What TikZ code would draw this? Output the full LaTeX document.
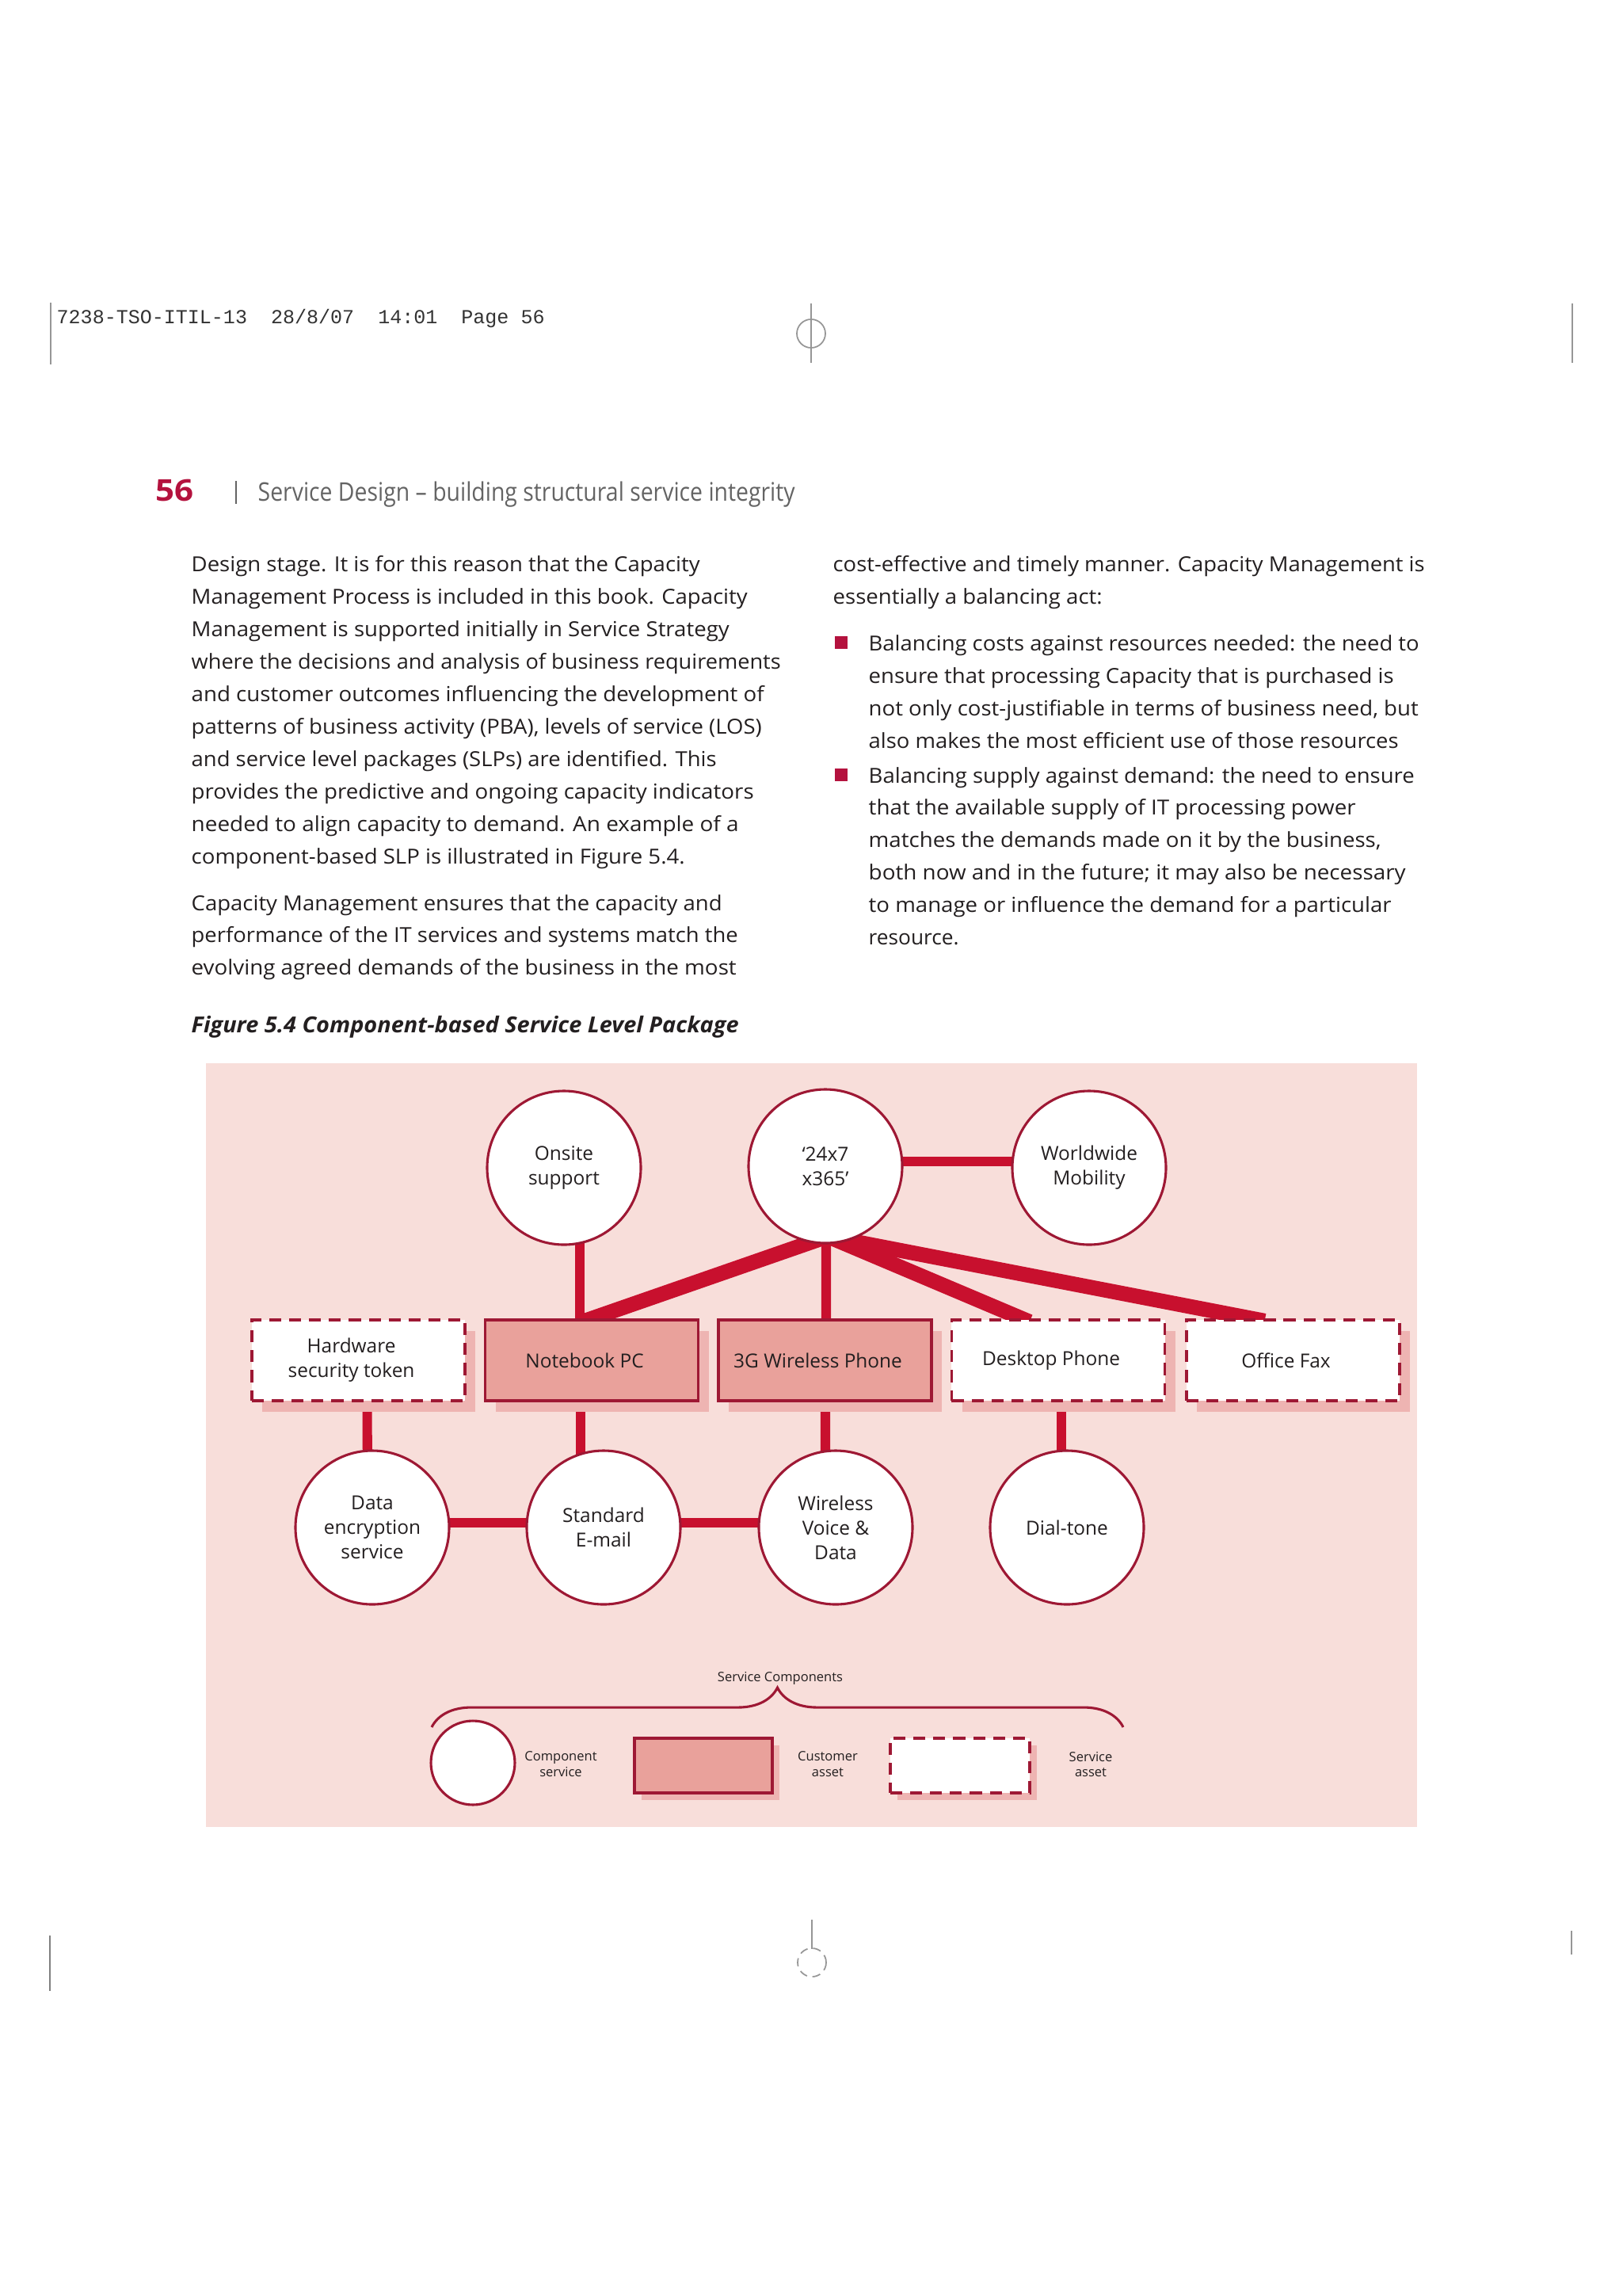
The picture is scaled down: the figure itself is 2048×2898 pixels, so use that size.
\documentclass[tikz,border=0pt]{standalone}
\usepackage{fontspec}
\setmainfont{Open Sans}
\newfontfamily\monof{Liberation Mono}
\usepackage{graphicx}
\usetikzlibrary{calc,shadows,decorations.pathreplacing}
\definecolor{figbg}{RGB}{248,222,218}
\definecolor{conncol}{RGB}{200,16,46}
\definecolor{edgecol}{RGB}{158,24,52}
\definecolor{custfill}{RGB}{233,161,155}
\definecolor{shadowc}{RGB}{238,180,178}
\definecolor{bodytxt}{RGB}{35,31,32}
\definecolor{headred}{RGB}{180,18,62}
\definecolor{titlegray}{RGB}{100,100,100}
\definecolor{markgray}{RGB}{150,150,150}
\newlength\pxu \setlength\pxu{0.29066pt}
\newcommand\fitto[2]{\resizebox{#1\pxu}{\height}{#2}}
\newcommand\lsh{\hspace*{5.2pt}}
\newcommand\bodyf{\fontsize{7.6pt}{9pt}\selectfont\color{bodytxt}}
\newcommand\diagf{\fontsize{7.1pt}{9pt}\selectfont\color{bodytxt}}
\newcommand\legf{\fontsize{4.8pt}{5.8pt}\selectfont\color{bodytxt}}
\pgfdeclarelayer{bg}
\pgfsetlayers{bg,main}
\tikzset{
  body/.style={anchor=base west, inner sep=0pt, font=\bodyf},
  comp/.style={circle, draw=edgecol, line width=0.9pt, fill=white, minimum size=56.4pt,
    inner sep=0pt, align=center, font=\diagf},
  custbox/.style={rectangle, draw=edgecol, line width=1.1pt, fill=custfill,
    minimum width=78.2pt, minimum height=29.6pt, inner sep=0pt, align=center, font=\diagf},
  servbox/.style={custbox, fill=white, dash pattern=on 4.4pt off 2.9pt},
  bigshadow/.style={drop shadow={shadow xshift=3.8pt, shadow yshift=-4.1pt, fill=shadowc, opacity=1}},
  smallshadow/.style={drop shadow={shadow xshift=2.6pt, shadow yshift=-2.6pt, fill=shadowc, opacity=1}},
  conn/.style={draw=conncol, line width=3.5pt},
  connthick/.style={draw=conncol, line width=5.5pt},
  legtext/.style={font=\legf, align=center, inner sep=0pt},
  cropline/.style={draw=markgray, line width=0.5pt}
}
\begin{document}
\begin{tikzpicture}[x=0.29066pt, y=-0.29066pt]
\useasboundingbox (0,0) rectangle (2048,2898);
\begin{pgfonlayer}{bg}
  \fill[white] (0,0) rectangle (2048,2898);
  \fill[figbg] (260,1342) rectangle (1789,2306);
\end{pgfonlayer}

% ---- printer marks ----
\draw[cropline] (64,382) -- (64,460);
\draw[cropline] (1985,383) -- (1985,458);
\draw[cropline] (1024,383) -- (1024,458);
\draw[cropline] (1024,421) circle [radius=18];
\draw[cropline, draw=gray] (63,2443) -- (63,2513);
\draw[cropline] (1984,2437) -- (1984,2467);
\draw[cropline] (1025,2423) -- (1025,2460);
\draw[cropline, densely dashed] (1025,2477) circle [radius=18];

% ---- header ----
\node[anchor=base west, inner sep=0pt, text=black!80] (hdr) at (71,408)
  {\fitto{616}{\monof\fontsize{7.3pt}{8pt}\selectfont 7238-TSO-ITIL-13~~28/8/07~~14:01~~Page 56}};
\node[anchor=base west, inner sep=0pt, text=headred] (pnum) at (196,632)
  {\fitto{48}{\fontsize{11pt}{12pt}\selectfont\bfseries 56}};
\draw[draw=titlegray, line width=0.6pt] (298,607) -- (298,636);
\node[anchor=base west, inner sep=0pt, text=titlegray] (ttl) at (325,632)
  {\fitto{678}{\fontsize{9.4pt}{10pt}\selectfont Service Design – building structural service integrity}};

% ---- left column ----
\node[body] (l1) at (241,721) {\fitto{642}{Design stage. It is for this reason that the Capacity}};
\node[body] (l2) at (241,762) {\fitto{702}{Management Process is included in this book. Capacity}};
\node[body] (l3) at (241,803) {\fitto{679}{Management is supported initially in Service Strategy}};
\node[body] (l4) at (241,844) {\fitto{744}{where the decisions and analysis of business requirements}};
\node[body] (l5) at (241,885) {\fitto{723}{and customer outcomes influencing the development of}};
\node[body] (l6) at (241,926) {\fitto{720}{patterns of business activity (PBA), levels of service (LOS)}};
\node[body] (l7) at (241,967) {\fitto{663}{and service level packages (SLPs) are identified. This}};
\node[body] (l8) at (241,1008) {\fitto{710}{provides the predictive and ongoing capacity indicators}};
\node[body] (l9) at (241,1049) {\fitto{691}{needed to align capacity to demand. An example of a}};
\node[body] (l10) at (241,1090) {\fitto{623}{component-based SLP is illustrated in Figure 5.4.}};
\node[body] (l11) at (241,1149) {\fitto{670}{Capacity Management ensures that the capacity and}};
\node[body] (l12) at (241,1189) {\fitto{690}{performance of the IT services and systems match the}};
\node[body] (l13) at (241,1230) {\fitto{688}{evolving agreed demands of the business in the most}};

% ---- right column ----
\node[body] (r1) at (1051,721) {\fitto{747}{cost-effective and timely manner. Capacity Management is}};
\node[body] (r2) at (1051,762) {\fitto{340}{essentially a balancing act:}};
\fill[headred] (1054,803) rectangle (1070,819);
\node[body] (b1) at (1096,821) {\fitto{695}{Balancing costs against resources needed: the need to}};
\node[body] (b2) at (1096,862) {\fitto{663}{ensure that processing Capacity that is purchased is}};
\node[body] (b3) at (1096,903) {\fitto{694}{not only cost-justifiable in terms of business need, but}};
\node[body] (b4) at (1096,944) {\fitto{669}{also makes the most efficient use of those resources}};
\fill[headred] (1054,970) rectangle (1070,986);
\node[body] (b5) at (1096,988) {\fitto{689}{Balancing supply against demand: the need to ensure}};
\node[body] (b6) at (1096,1028) {\fitto{615}{that the available supply of IT processing power}};
\node[body] (b7) at (1096,1069) {\fitto{647}{matches the demands made on it by the business,}};
\node[body] (b8) at (1096,1110) {\fitto{678}{both now and in the future; it may also be necessary}};
\node[body] (b9) at (1096,1151) {\fitto{660}{to manage or influence the demand for a particular}};
\node[body] (b10) at (1096,1192) {\fitto{114}{resource.}};

% ---- caption ----
\node[anchor=base west, inner sep=0pt, text=bodytxt] (cap) at (241,1303)
  {\fitto{691}{\fontsize{8.1pt}{9pt}\selectfont\bfseries\itshape Figure 5.4 Component-based Service Level Package}};

% ---- diagram nodes ----
\node[comp] (onsite) at (712,1474) {Onsite\\support};
\node[comp] (tw) at (1042,1472) {‘24x7\\x365’};
\node[comp] (ww) at (1375,1474) {Worldwide\\Mobility};
\node[servbox, bigshadow] (hw) at (452.5,1717) {Hardware\lsh\\security token\lsh};
\node[custbox, bigshadow] (nb) at (747,1717) {Notebook PC\lsh};
\node[custbox, bigshadow] (wp) at (1041.5,1717) {3G Wireless Phone\lsh};
\node[servbox, bigshadow] (dp) at (1336,1717) {Desktop Phone\lsh};
\node[servbox, bigshadow] (of) at (1632.5,1717) {Office Fax\lsh};
\node[comp] (de) at (470,1928) {Data\\encryption\\service};
\node[comp] (se) at (762,1928) {Standard\\E-mail};
\node[comp] (wv) at (1055,1928) {Wireless\\Voice \&\\Data};
\node[comp] (dt) at (1347,1928) {Dial-tone};

% ---- legend ----
\node[legtext] (sc) at (985,2118) {Service Components};
\coordinate (brl) at (545,2180);
\coordinate (brr) at (1418,2180);
\draw[draw=edgecol, line width=0.9pt, decorate, decoration={brace, amplitude=14.5pt}] (brl) -- (brr);
\node[comp, minimum size=30.8pt] (lgc) at (597,2225) {};
\node[legtext] (lgct) at (708,2227) {Component\\service};
\node[custbox, smallshadow, minimum width=50.6pt, minimum height=20pt] (lgb) at (888,2228.5) {};
\node[legtext] (lgbt) at (1045,2227) {Customer\\asset};
\node[servbox, smallshadow, minimum width=51.2pt, minimum height=20pt] (lgs) at (1212,2228.5) {};
\node[legtext] (lgst) at (1377,2227) {Service\\asset};

% ---- connectors (behind nodes) ----
\begin{pgfonlayer}{bg}
  \coordinate (hub) at ($(tw.south)+(3,-10)$);
  \coordinate (dpin) at ($(dp.north)+(-46,0)$);
  \coordinate (ofin) at ($(of.north)+(-52,0)$);
  \draw[conn] ($(onsite.center)+(20,0)$) -- ($(nb.center)+(-15,0)$);
  \draw[conn] ($(tw.center)+(1,0)$) -- ($(wp.center)+(1.5,0)$);
  \draw[conn] ($(tw.center)+(0,-6)$) -- ($(ww.center)+(0,-8)$);
  \draw[connthick] (hub) -- ($(hub)!1.04!(nb.north)$);
  \draw[connthick] (hub) -- ($(hub)!1.04!(dpin)$);
  \draw[connthick] (hub) -- ($(hub)!1.03!(ofin)$);
  \draw[conn] ($(hw.center)+(11,0)$) -- ($(de.center)+(-6,0)$);
  \draw[conn] ($(nb.center)+(-14,0)$) -- ($(se.center)+(-29,0)$);
  \draw[conn] ($(wp.center)+(0.5,0)$) -- ($(wv.center)+(-13,0)$);
  \draw[conn] ($(dp.center)+(4,0)$) -- ($(dt.center)+(-7,0)$);
  \draw[conn] ($(de.center)+(0,-6)$) -- ($(se.center)+(0,-6)$);
  \draw[conn] ($(se.center)+(0,-6)$) -- ($(wv.center)+(0,-6)$);
\end{pgfonlayer}
\end{tikzpicture}
\end{document}
